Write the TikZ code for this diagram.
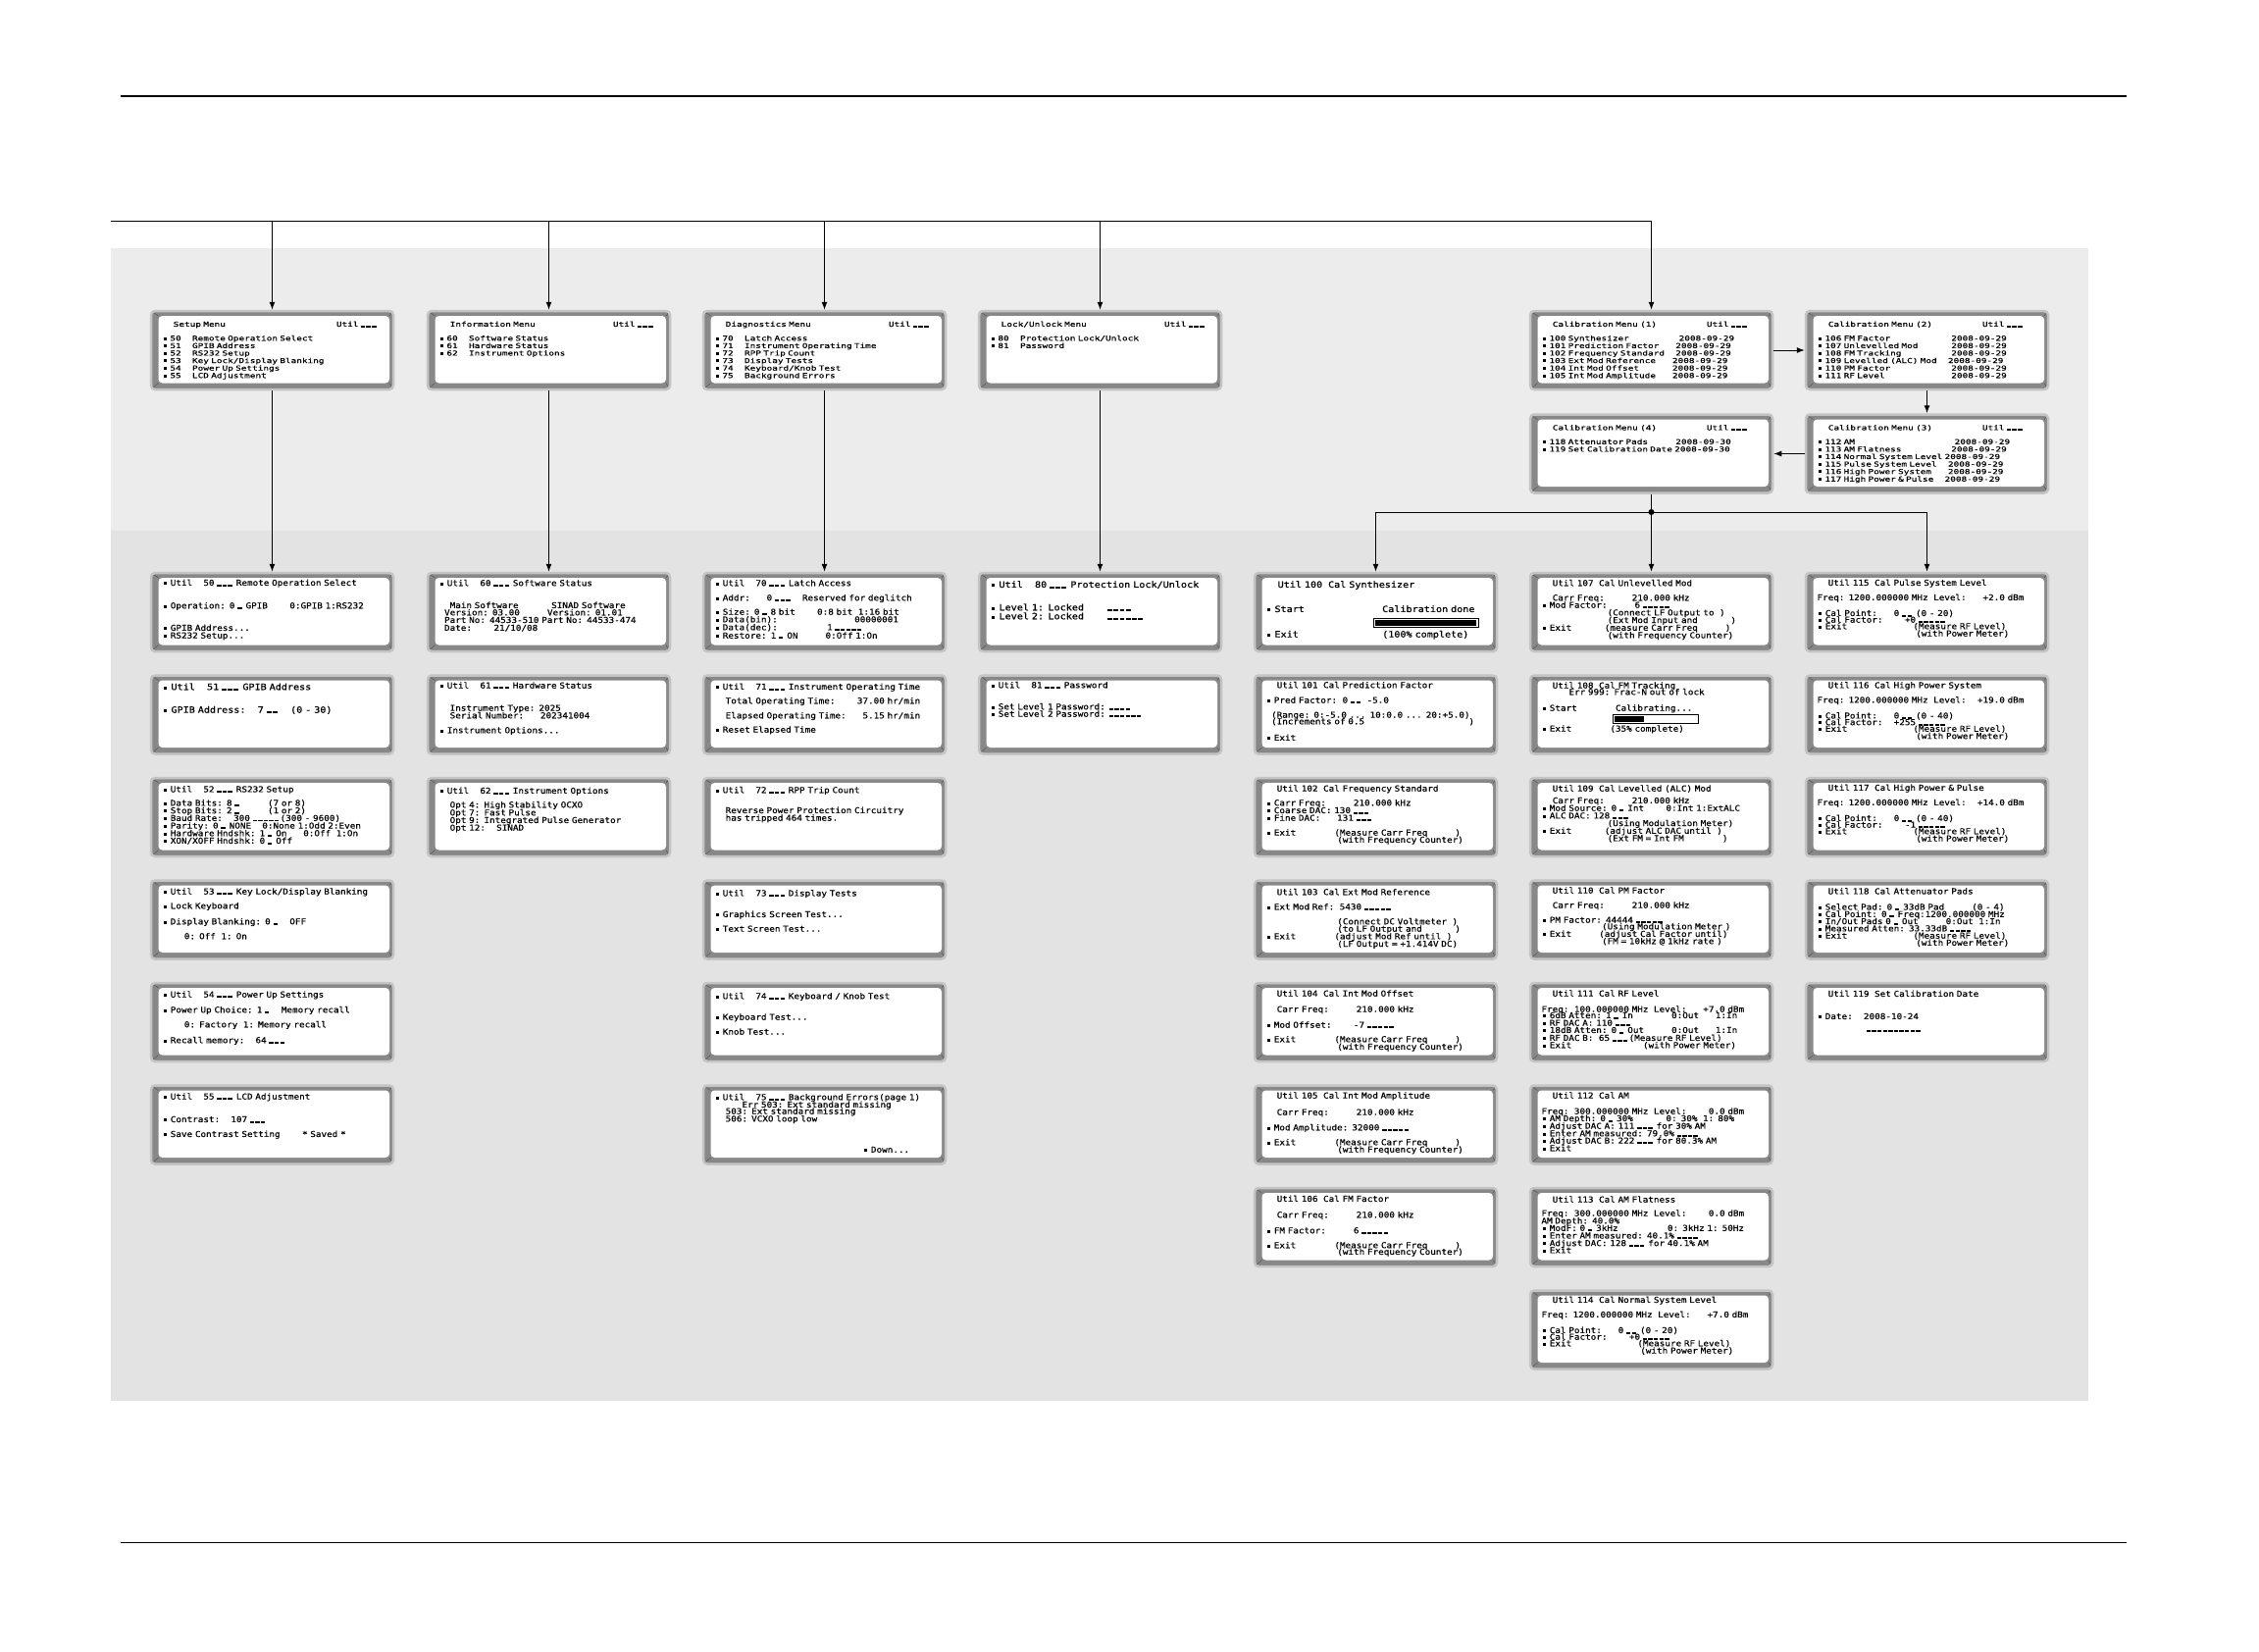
\documentclass[tikz,border=0pt]{standalone}
\usepackage{fontspec}
\usetikzlibrary{arrows.meta}
\newfontfamily\lcdfam[FakeStretch=1.134,FakeBold=0.5]{DejaVu Sans Mono}
\newfontfamily\lcdlfam[FakeStretch=1.15,FakeBold=0.6]{DejaVu Sans Mono}
\newfontfamily\lcdmfam[FakeStretch=1.36,FakeBold=0.5]{DejaVu Sans Mono}
\newlength\chw
\newcount\curn
\setlength\parindent{0pt}
\newcommand\lcdset{\settowidth\chw{0}\fontdimen2\font=\chw\fontdimen3\font=0pt\fontdimen4\font=0pt\lineskiplimit=-50pt\lineskip=0pt\relax}
\newcommand\lcd{\lcdfam\fontsize{8.2}{7.7}\selectfont\lcdset}
\newcommand\lcdl{\lcdlfam\fontsize{8.8}{7.7}\selectfont\lcdset}
\newcommand\lcdmenu{\lcdmfam\fontsize{6.9}{7.6}\selectfont\lcdset}
\newcommand\sk[1]{\settowidth\chw{0}\hspace*{#1\chw}}
\newcommand\bu{\settowidth\chw{0}\makebox[\chw][c]{\rule[0.7pt]{3pt}{3pt}}}
\newcommand\curbar{\settowidth\chw{0}\rule[-0.6pt]{\dimexpr\chw-1.2pt\relax}{1.9pt}\hspace*{1.2pt}}
\newcommand\cur[1]{\curn=#1\relax\loop\ifnum\curn>0 \curbar\advance\curn by -1\relax\repeat}
\newcommand\pbar[2]{{\setlength\fboxsep{1pt}\setlength\fboxrule{1pt}\fbox{\rule{#1}{6pt}\hspace*{#2}}}}
\definecolor{bandA}{RGB}{236,236,236}
\definecolor{bandB}{RGB}{227,227,227}
\definecolor{scrrim}{RGB}{196,196,196}
\definecolor{scrbezel}{RGB}{136,136,136}
\definecolor{scrbevel}{RGB}{90,90,90}
% name, left, top, first baseline, font, text
\newcommand\lcdscreen[6]{%
  \node[screen] (#1) at ({#2+124.5},{#3+41}) {};
  \node[scrtext, font=#5] (#1-txt) at ([xshift=12.5pt,yshift={(8-#4)*1pt}]#1.north west) {\rule{0pt}{7pt}#6};}
\begin{document}
\begin{tikzpicture}[x=1pt,y=-1pt,
	screen/.style={draw=scrrim, line width=2.5pt, fill=scrbezel, rounded corners=4pt,
		minimum width=247pt, minimum height=80pt, inner sep=0pt,
		path picture={
			\fill[white] ([xshift=7.5pt,yshift=6.5pt]path picture bounding box.south west) rectangle ([xshift=-4pt,yshift=-5pt]path picture bounding box.north east);
			\draw[scrbevel, line width=0.6pt] (path picture bounding box.south west) -- ++(7.5pt,6.5pt)
				(path picture bounding box.north west) -- ++(7.5pt,-5pt)
				(path picture bounding box.north east) -- ++(-4pt,-5pt)
				(path picture bounding box.south east) -- ++(-4pt,6.5pt);}},
	scrtext/.style={anchor=north west, inner sep=0pt, text width=250pt, align=left, font=\lcd},
	conn/.style={line width=1pt},
	arr/.style={conn, -{Latex[length=8pt,width=6pt]}}]
	\useasboundingbox (0,0) rectangle (2303,1684);
	\fill[white] (0,0) rectangle (2303,1684);
	\draw[line width=1.4pt] (123,98) -- (2168,98);
	\draw[line width=0.7pt] (123,1572) -- (2168,1572);
	\fill[bandA] (113,253) rectangle (2129,541);
	\fill[bandB] (113,541) rectangle (2129,1428);

	\lcdscreen{mset}{153}{316}{18}{\lcdmenu}{\sk{2}Setup Menu\sk{20}Util \cur{3}\\[6.7pt]
		\bu~50\sk{2}Remote Operation Select\\
		\bu~51\sk{2}GPIB Address\\
		\bu~52\sk{2}RS232 Setup\\
		\bu~53\sk{2}Key Lock/Display Blanking\\
		\bu~54\sk{2}Power Up Settings\\
		\bu~55\sk{2}LCD Adjustment}
	\lcdscreen{minfo}{435}{316}{18}{\lcdmenu}{\sk{2}Information Menu\sk{14}Util \cur{3}\\[6.7pt]
		\bu~60\sk{2}Software Status\\
		\bu~61\sk{2}Hardware Status\\
		\bu~62\sk{2}Instrument Options}
	\lcdscreen{mdiag}{716}{316}{18}{\lcdmenu}{\sk{2}Diagnostics Menu\sk{14}Util \cur{3}\\[6.7pt]
		\bu~70\sk{2}Latch Access\\
		\bu~71\sk{2}Instrument Operating Time\\
		\bu~72\sk{2}RPP Trip Count\\
		\bu~73\sk{2}Display Tests\\
		\bu~74\sk{2}Keyboard/Knob Test\\
		\bu~75\sk{2}Background Errors}
	\lcdscreen{mlock}{997}{316}{18}{\lcdmenu}{\sk{2}Lock/Unlock Menu\sk{14}Util \cur{3}\\[6.7pt]
		\bu~80\sk{2}Protection Lock/Unlock\\
		\bu~81\sk{2}Password}
	\lcdscreen{mcal1}{1559}{316}{18}{\lcdmenu}{\sk{2}Calibration Menu (1)\sk{9}Util \cur{3}\\[6.7pt]
		\bu~100 Synthesizer\sk{9}2008-09-29\\
		\bu~101 Prediction Factor\sk{3}2008-09-29\\
		\bu~102 Frequency Standard\sk{2}2008-09-29\\
		\bu~103 Ext Mod Reference\sk{3}2008-09-29\\
		\bu~104 Int Mod Offset\sk{6}2008-09-29\\
		\bu~105 Int Mod Amplitude\sk{3}2008-09-29}
	\lcdscreen{mcal2}{1840}{316}{18}{\lcdmenu}{\sk{2}Calibration Menu (2)\sk{9}Util \cur{3}\\[6.7pt]
		\bu~106 FM Factor\sk{11}2008-09-29\\
		\bu~107 Unlevelled Mod\sk{6}2008-09-29\\
		\bu~108 FM Tracking\sk{9}2008-09-29\\
		\bu~109 Levelled (ALC) Mod\sk{2}2008-09-29\\
		\bu~110 PM Factor\sk{11}2008-09-29\\
		\bu~111 RF Level\sk{12}2008-09-29}
	\lcdscreen{mcal3}{1840}{421.5}{18}{\lcdmenu}{\sk{2}Calibration Menu (3)\sk{9}Util \cur{3}\\[6.7pt]
		\bu~112 AM\sk{18}2008-09-29\\
		\bu~113 AM Flatness\sk{9}2008-09-29\\
		\bu~114 Normal System Level 2008-09-29\\
		\bu~115 Pulse System Level\sk{2}2008-09-29\\
		\bu~116 High Power System\sk{3}2008-09-29\\
		\bu~117 High Power \& Pulse\sk{2}2008-09-29}
	\lcdscreen{mcal4}{1559}{421.5}{18}{\lcdmenu}{\sk{2}Calibration Menu (4)\sk{9}Util \cur{3}\\[6.7pt]
		\bu~118 Attenuator Pads\sk{5}2008-09-30\\
		\bu~119 Set Calibration Date 2008-09-30}

	\lcdscreen{s50}{153}{583}{15}{\lcd}{\bu~Util\sk{2}50 \cur{3} Remote Operation Select\\[15.6pt]
		\bu~Operation: 0 \cur{1} GPIB\sk{4}0:GPIB 1:RS232\\[15pt]
		\bu~GPIB Address...\\
		\bu~RS232 Setup...}
	\lcdscreen{s51}{153}{687.5}{16.8}{\lcdl}{\bu~Util\sk{2}51 \cur{3} GPIB Address\\[15.7pt]
		\bu~GPIB Address:\sk{2}7 \cur{2}\sk{2}(0 - 30)}
	\lcdscreen{s52}{153}{792}{16.5}{\lcd}{\bu~Util\sk{2}52 \cur{3} RS232 Setup\\[6.3pt]
		\bu~Data Bits: 8 \cur{1}\sk{5}(7 or 8)\\
		\bu~Stop Bits: 2 \cur{1}\sk{5}(1 or 2)\\
		\bu~Baud Rate:\sk{2}300 \cur{5}(300 - 9600)\\
		\bu~Parity: 0 \cur{1} NONE\sk{2}0:None 1:Odd 2:Even\\
		\bu~Hardware Hndshk: 1 \cur{1} On\sk{3}0:Off~~1:On\\
		\bu~XON/XOFF Hndshk: 0 \cur{1} Off}
	\lcdscreen{s53}{153}{896.5}{16.2}{\lcd}{\bu~Util\sk{2}53 \cur{3} Key Lock/Display Blanking\\[6.9pt]
		\bu~Lock Keyboard\\[8.3pt]
		\bu~Display Blanking: 0 \cur{1}\sk{2}OFF\\[7.3pt]
		\sk{4}0: Off~~1: On}
	\lcdscreen{s54}{153}{1001}{16.7}{\lcd}{\bu~Util\sk{2}54 \cur{3} Power Up Settings\\[7.9pt]
		\bu~Power Up Choice: 1 \cur{1}\sk{2}Memory recall\\[7.3pt]
		\sk{4}0: Factory~~1: Memory recall\\[8.3pt]
		\bu~Recall memory:\sk{2}64 \cur{3}}
	\lcdscreen{s55}{153}{1105.5}{16.2}{\lcd}{\bu~Util\sk{2}55 \cur{3} LCD Adjustment\\[15.6pt]
		\bu~Contrast:\sk{2}107 \cur{3}\\[7.3pt]
		\bu~Save Contrast Setting\sk{4}* Saved *}

	\lcdscreen{s60}{435}{583}{15.3}{\lcd}{\bu~Util\sk{2}60 \cur{3} Software Status\\[15pt]
		\sk{2}Main Software\sk{6}SINAD Software\\[-0.4pt]
		\sk{1}Version: 03.00\sk{5}Version: 01.01\\
		\sk{1}Part No: 44533-510 Part No: 44533-474\\[0.3pt]
		\sk{1}Date:\sk{4}21/10/08}
	\lcdscreen{s61}{435}{687.5}{15.2}{\lcd}{\bu~Util\sk{2}61 \cur{3} Hardware Status\\[15.3pt]
		\sk{2}Instrument Type: 2025\\[-0.1pt]
		\sk{2}Serial Number:\sk{3}202341004\\[7.3pt]
		\bu~Instrument Options...}
	\lcdscreen{s62}{435}{792}{18}{\lcd}{\bu~Util\sk{2}62 \cur{3} Instrument Options\\[6.6pt]
		\sk{2}Opt 4: High Stability OCXO\\[0.3pt]
		\sk{2}Opt 7: Fast Pulse\\
		\sk{2}Opt 9: Integrated Pulse Generator\\
		\sk{2}Opt 12:\sk{2}SINAD}

	\lcdscreen{s70}{716}{583}{15.3}{\lcd}{\bu~Util\sk{2}70 \cur{3} Latch Access\\[7.3pt]
		\bu~Addr:\sk{3}0 \cur{3}\sk{2}Reserved for deglitch\\[6.7pt]
		\bu~Size: 0 \cur{1} 8 bit\sk{4}0:8 bit~~1:16 bit\\
		\bu~Data(bin):\sk{14}00000001\\[0.3pt]
		\bu~Data(dec):\sk{9}1 \cur{5}\\[0.7pt]
		\bu~Restore: 1 \cur{1} ON\sk{5}0:Off 1:On}
	\lcdscreen{s71}{716}{687.5}{16.5}{\lcd}{\bu~Util\sk{2}71 \cur{3} Instrument Operating Time\\[6.6pt]
		\sk{2}Total Operating Time:\sk{4}37.00 hr/min\\[7.3pt]
		\sk{2}Elapsed Operating Time:\sk{3}5.15 hr/min\\[6.7pt]
		\bu~Reset Elapsed Time}
	\lcdscreen{s72}{716}{792}{17.3}{\lcd}{\bu~Util\sk{2}72 \cur{3} RPP Trip Count\\[13pt]
		\sk{2}Reverse Power Protection Circuitry\\
		\sk{2}has tripped 464 times.}
	\lcdscreen{s73}{716}{896.5}{18}{\lcd}{\bu~Util\sk{2}73 \cur{3} Display Tests\\[13.8pt]
		\bu~Graphics Screen Test...\\[7pt]
		\bu~Text Screen Test...}
	\lcdscreen{s74}{716}{1001}{18.3}{\lcd}{\bu~Util\sk{2}74 \cur{3} Keyboard / Knob Test\\[13.7pt]
		\bu~Keyboard Test...\\[7.3pt]
		\bu~Knob Test...}
	\lcdscreen{s75}{716}{1105.5}{16.8}{\lcd}{\bu~Util\sk{2}75 \cur{3} Background Errors(page 1)\\
		\sk{5}Err 503: Ext standard missing\\[-1pt]
		\sk{2}503: Ext standard missing\\
		\sk{2}506: VCXO loop low\\[23.7pt]
		\sk{27}\bu~Down...}

	\lcdscreen{s80}{997}{583}{17}{\lcdl}{\bu~Util\sk{2}80 \cur{3} Protection Lock/Unlock\\[15.6pt]
		\bu~Level 1: Locked\sk{4}\cur{4}\\[1.3pt]
		\bu~Level 2: Locked\sk{4}\cur{6}}
	\lcdscreen{s81}{997}{687.5}{14.8}{\lcd}{\bu~Util\sk{2}81 \cur{3} Password\\[14.3pt]
		\bu~Set Level 1 Password: \cur{4}\\[-0.3pt]
		\bu~Set Level 2 Password: \cur{6}}

	\lcdscreen{s100}{1278}{583}{17}{\lcdl}{\sk{2}Util 100~~Cal Synthesizer\\[17.3pt]
		\bu~Start\sk{13}Calibration done\\[6.3pt]
		\sk{18}\pbar{103pt}{1pt}\\[4pt]
		\bu~Exit\sk{14}(100\% complete)}
	\lcdscreen{s101}{1278}{687.5}{14.8}{\lcd}{\sk{2}Util 101~~Cal Prediction Factor\\[7.7pt]
		\bu~Pred Factor:~~0 \cur{2}~~-5.0\\[7.3pt]
		\sk{1}(Range: 0:-5.0 ... 10:0.0 ... 20:+5.0)\\[-1.1pt]
		\sk{1}(Increments of 0.5\sk{19})\\[9pt]
		\bu~Exit}
	\lcdscreen{s102}{1278}{792}{15.7}{\lcd}{\sk{2}Util 102~~Cal Frequency Standard\\[6.9pt]
		\bu~Carr Freq:\sk{5}210.000 kHz\\
		\bu~Coarse DAC: 130 \cur{3}\\
		\bu~Fine DAC:\sk{3}131 \cur{3}\\[7.3pt]
		\bu~Exit\sk{7}(Measure Carr Freq\sk{5})\\[-0.4pt]
		\sk{13}(with Frequency Counter)}
	\lcdscreen{s103}{1278}{896.5}{16.8}{\lcd}{\sk{2}Util 103~~Cal Ext Mod Reference\\[7.3pt]
		\bu~Ext Mod Ref:~~5430 \cur{5}\\[7.3pt]
		\sk{13}(Connect DC Voltmeter~~)\\[-0.3pt]
		\sk{13}(to LF Output and\sk{6})\\
		\bu~Exit\sk{7}(adjust Mod Ref until~~)\\
		\sk{13}(LF Output = +1.414V DC)}
	\lcdscreen{s104}{1278}{1001}{15.7}{\lcd}{\sk{2}Util 104~~Cal Int Mod Offset\\[8.3pt]
		\sk{2}Carr Freq:\sk{5}210.000 kHz\\[8.3pt]
		\bu~Mod Offset:\sk{4}-7 \cur{5}\\[6.9pt]
		\bu~Exit\sk{7}(Measure Carr Freq\sk{5})\\
		\sk{13}(with Frequency Counter)}
	\lcdscreen{s105}{1278}{1105.5}{15.2}{\lcd}{\sk{2}Util 105~~Cal Int Mod Amplitude\\[9.3pt]
		\sk{2}Carr Freq:\sk{5}210.000 kHz\\[7.9pt]
		\bu~Mod Amplitude: 32000 \cur{5}\\[7.3pt]
		\bu~Exit\sk{7}(Measure Carr Freq\sk{5})\\[-0.3pt]
		\sk{13}(with Frequency Counter)}
	\lcdscreen{s106}{1278}{1210}{16}{\lcd}{\sk{2}Util 106~~Cal FM Factor\\[8.6pt]
		\sk{2}Carr Freq:\sk{5}210.000 kHz\\[8.3pt]
		\bu~FM Factor:\sk{5}6 \cur{5}\\[7.3pt]
		\bu~Exit\sk{7}(Measure Carr Freq\sk{5})\\[-1pt]
		\sk{13}(with Frequency Counter)}

	\lcdscreen{s107}{1559}{583}{15.3}{\lcd}{\sk{2}Util 107~~Cal Unlevelled Mod\\[7.3pt]
		\sk{2}Carr Freq:\sk{5}210.000 kHz\\[-0.3pt]
		\bu~Mod Factor:\sk{5}6 \cur{5}\\
		\sk{12}(Connect LF Output to~~)\\
		\sk{12}(Ext Mod Input and\sk{6})\\
		\bu~Exit\sk{6}(measure Carr Freq\sk{5})\\
		\sk{12}(with Frequency Counter)}
	\lcdscreen{s108}{1559}{687.5}{15.2}{\lcd}{\sk{2}Util 108~~Cal FM Tracking\\[-1.1pt]
		\sk{5}Err 999: Frac-N out of lock\\[8.7pt]
		\bu~Start\sk{7}Calibrating...\\[3.9pt]
		\sk{13}\pbar{30pt}{54pt}\\[1.7pt]
		\bu~Exit\sk{7}(35\% complete)}
	\lcdscreen{s109}{1559}{792}{15.7}{\lcd}{\sk{2}Util 109~~Cal Levelled (ALC) Mod\\[4.6pt]
		\sk{2}Carr Freq:\sk{5}210.000 kHz\\
		\bu~Mod Source: 0 \cur{1} Int\sk{4}0:Int 1:ExtALC\\
		\bu~ALC DAC: 128 \cur{3}\\
		\sk{12}(Using Modulation Meter)\\
		\bu~Exit\sk{6}(adjust ALC DAC until~~)\\
		\sk{12}(Ext FM = Int FM\sk{7})}
	\lcdscreen{s110}{1559}{896.5}{15.2}{\lcd}{\sk{2}Util 110~~Cal PM Factor\\[7.3pt]
		\sk{2}Carr Freq:\sk{5}210.000 kHz\\[7.3pt]
		\bu~PM Factor: 44444 \cur{5}\\[-1.1pt]
		\sk{11}(Using Modulation Meter )\\
		\bu~Exit\sk{5}(adjust Cal Factor until)\\[-0.4pt]
		\sk{11}(FM = 10kHz @ 1kHz rate )}
	\lcdscreen{s111}{1559}{1001}{15.7}{\lcd}{\sk{2}Util 111~~Cal RF Level\\[8.3pt]
		Freq:~~100.000000 MHz~~Level:\sk{3}+7.0 dBm\\[-1.4pt]
		\bu~6dB Atten: 1 \cur{1} In\sk{7}0:Out\sk{3}1:In\\
		\bu~RF DAC A: 110 \cur{3}\\[-0.4pt]
		\bu~18dB Atten: 0 \cur{1} Out\sk{5}0:Out\sk{3}1:In\\[0.3pt]
		\bu~RF DAC B:~~65 \cur{3}(Measure RF Level)\\[-0.4pt]
		\bu~Exit\sk{13}(with Power Meter)}
	\lcdscreen{s112}{1559}{1105.5}{15.2}{\lcd}{\sk{2}Util 112~~Cal AM\\[8.3pt]
		Freq:~~300.000000 MHz~~Level:\sk{4}0.0 dBm\\[-0.4pt]
		\bu~AM Depth: 0 \cur{1} 30\%\sk{6}0: 30\%~~1: 80\%\\
		\bu~Adjust DAC A: 111 \cur{3} for 30\% AM\\[-0.1pt]
		\bu~Enter AM measured: 79.0\% \cur{4}\\[-0.3pt]
		\bu~Adjust DAC B: 222 \cur{3} for 80.3\% AM\\[-0.1pt]
		\bu~Exit}
	\lcdscreen{s113}{1559}{1210}{16.7}{\lcd}{\sk{2}Util 113~~Cal AM Flatness\\[6.3pt]
		Freq:~~300.000000 MHz~~Level:\sk{4}0.0 dBm\\
		AM Depth: 40.0\%\\[-0.3pt]
		\bu~ModF: 0 \cur{1} 3kHz\sk{9}0: 3kHz 1: 50Hz\\
		\bu~Enter AM measured: 40.1\% \cur{4}\\
		\bu~Adjust DAC: 128 \cur{3} for 40.1\% AM\\[-0.4pt]
		\bu~Exit}
	\lcdscreen{s114}{1559}{1314.5}{14.5}{\lcd}{\sk{2}Util 114~~Cal Normal System Level\\[7.3pt]
		Freq: 1200.000000 MHz~~Level:\sk{3}+7.0 dBm\\[8.3pt]
		\bu~Cal Point:\sk{3}0 \cur{2} (0 - 20)\\[-1pt]
		\bu~Cal Factor:\sk{4}+0 \cur{5}\\[-1.1pt]
		\bu~Exit\sk{12}(Measure RF Level)\\[-0.3pt]
		\sk{18}(with Power Meter)}

	\lcdscreen{s115}{1840}{583}{15}{\lcd}{\sk{2}Util 115~~Cal Pulse System Level\\[7.3pt]
		Freq: 1200.000000 MHz~~Level:\sk{3}+2.0 dBm\\[8.3pt]
		\bu~Cal Point:\sk{3}0 \cur{2} (0 - 20)\\[-1pt]
		\bu~Cal Factor:\sk{4}+0 \cur{5}\\[-1.1pt]
		\bu~Exit\sk{12}(Measure RF Level)\\[-0.3pt]
		\sk{18}(with Power Meter)}
	\lcdscreen{s116}{1840}{687.5}{15}{\lcd}{\sk{2}Util 116~~Cal High Power System\\[7.3pt]
		Freq: 1200.000000 MHz~~Level:\sk{2}+19.0 dBm\\[8.3pt]
		\bu~Cal Point:\sk{3}0 \cur{2} (0 - 40)\\[-1pt]
		\bu~Cal Factor:\sk{2}+255 \cur{5}\\[-1.1pt]
		\bu~Exit\sk{12}(Measure RF Level)\\[-0.3pt]
		\sk{18}(with Power Meter)}
	\lcdscreen{s117}{1840}{792}{15}{\lcd}{\sk{2}Util 117~~Cal High Power \& Pulse\\[7.3pt]
		Freq: 1200.000000 MHz~~Level:\sk{2}+14.0 dBm\\[8.3pt]
		\bu~Cal Point:\sk{3}0 \cur{2} (0 - 40)\\[-1pt]
		\bu~Cal Factor:\sk{4}-1 \cur{5}\\[-1.1pt]
		\bu~Exit\sk{12}(Measure RF Level)\\[-0.3pt]
		\sk{18}(with Power Meter)}
	\lcdscreen{s118}{1840}{896.5}{16}{\lcd}{\sk{2}Util 118~~Cal Attenuator Pads\\[8.3pt]
		\bu~Select Pad: 0 \cur{1} 33dB Pad\sk{5}(0 - 4)\\[-0.4pt]
		\bu~Cal Point: 0 \cur{1} Freq:1200.000000 MHz\\[-0.4pt]
		\bu~In/Out Pads 0 \cur{1} Out\sk{5}0:Out~~1:In\\[-0.4pt]
		\bu~Measured Atten: 33.33dB \cur{4}\\[-0.4pt]
		\bu~Exit\sk{12}(Measure RF Level)\\[-0.4pt]
		\sk{18}(with Power Meter)}
	\lcdscreen{s119}{1840}{1001}{16}{\lcd}{\sk{2}Util 119~~Set Calibration Date\\[15.3pt]
		\bu~Date:\sk{2}2008-10-24\\[4.3pt]
		\sk{9}\cur{10}}

	\coordinate (bus) at (113,225);
	\draw[conn] (bus) -- (bus -| mcal1.north);
	\foreach \m in {mset,minfo,mdiag,mlock,mcal1}
		\draw[arr] (bus -| \m.north) -- (\m.north);
	\foreach \m/\s in {mset/s50,minfo/s60,mdiag/s70,mlock/s80}
		\draw[arr] (\m.south) -- (\s.north);
	\draw[arr] (mcal1.east) -- (mcal2.west);
	\draw[arr] (mcal2.south) -- (mcal3.north);
	\draw[arr] (mcal3.west) -- (mcal4.east);
	\coordinate (fork) at (1683.5,522);
	\draw[conn] (mcal4.south) -- (fork);
	\draw[conn] (fork -| s100.north) -- (fork -| s115.north);
	\fill (fork) circle (3);
	\foreach \s in {s100,s107,s115}
		\draw[arr] (fork -| \s.north) -- (\s.north);
\end{tikzpicture}
\end{document}
